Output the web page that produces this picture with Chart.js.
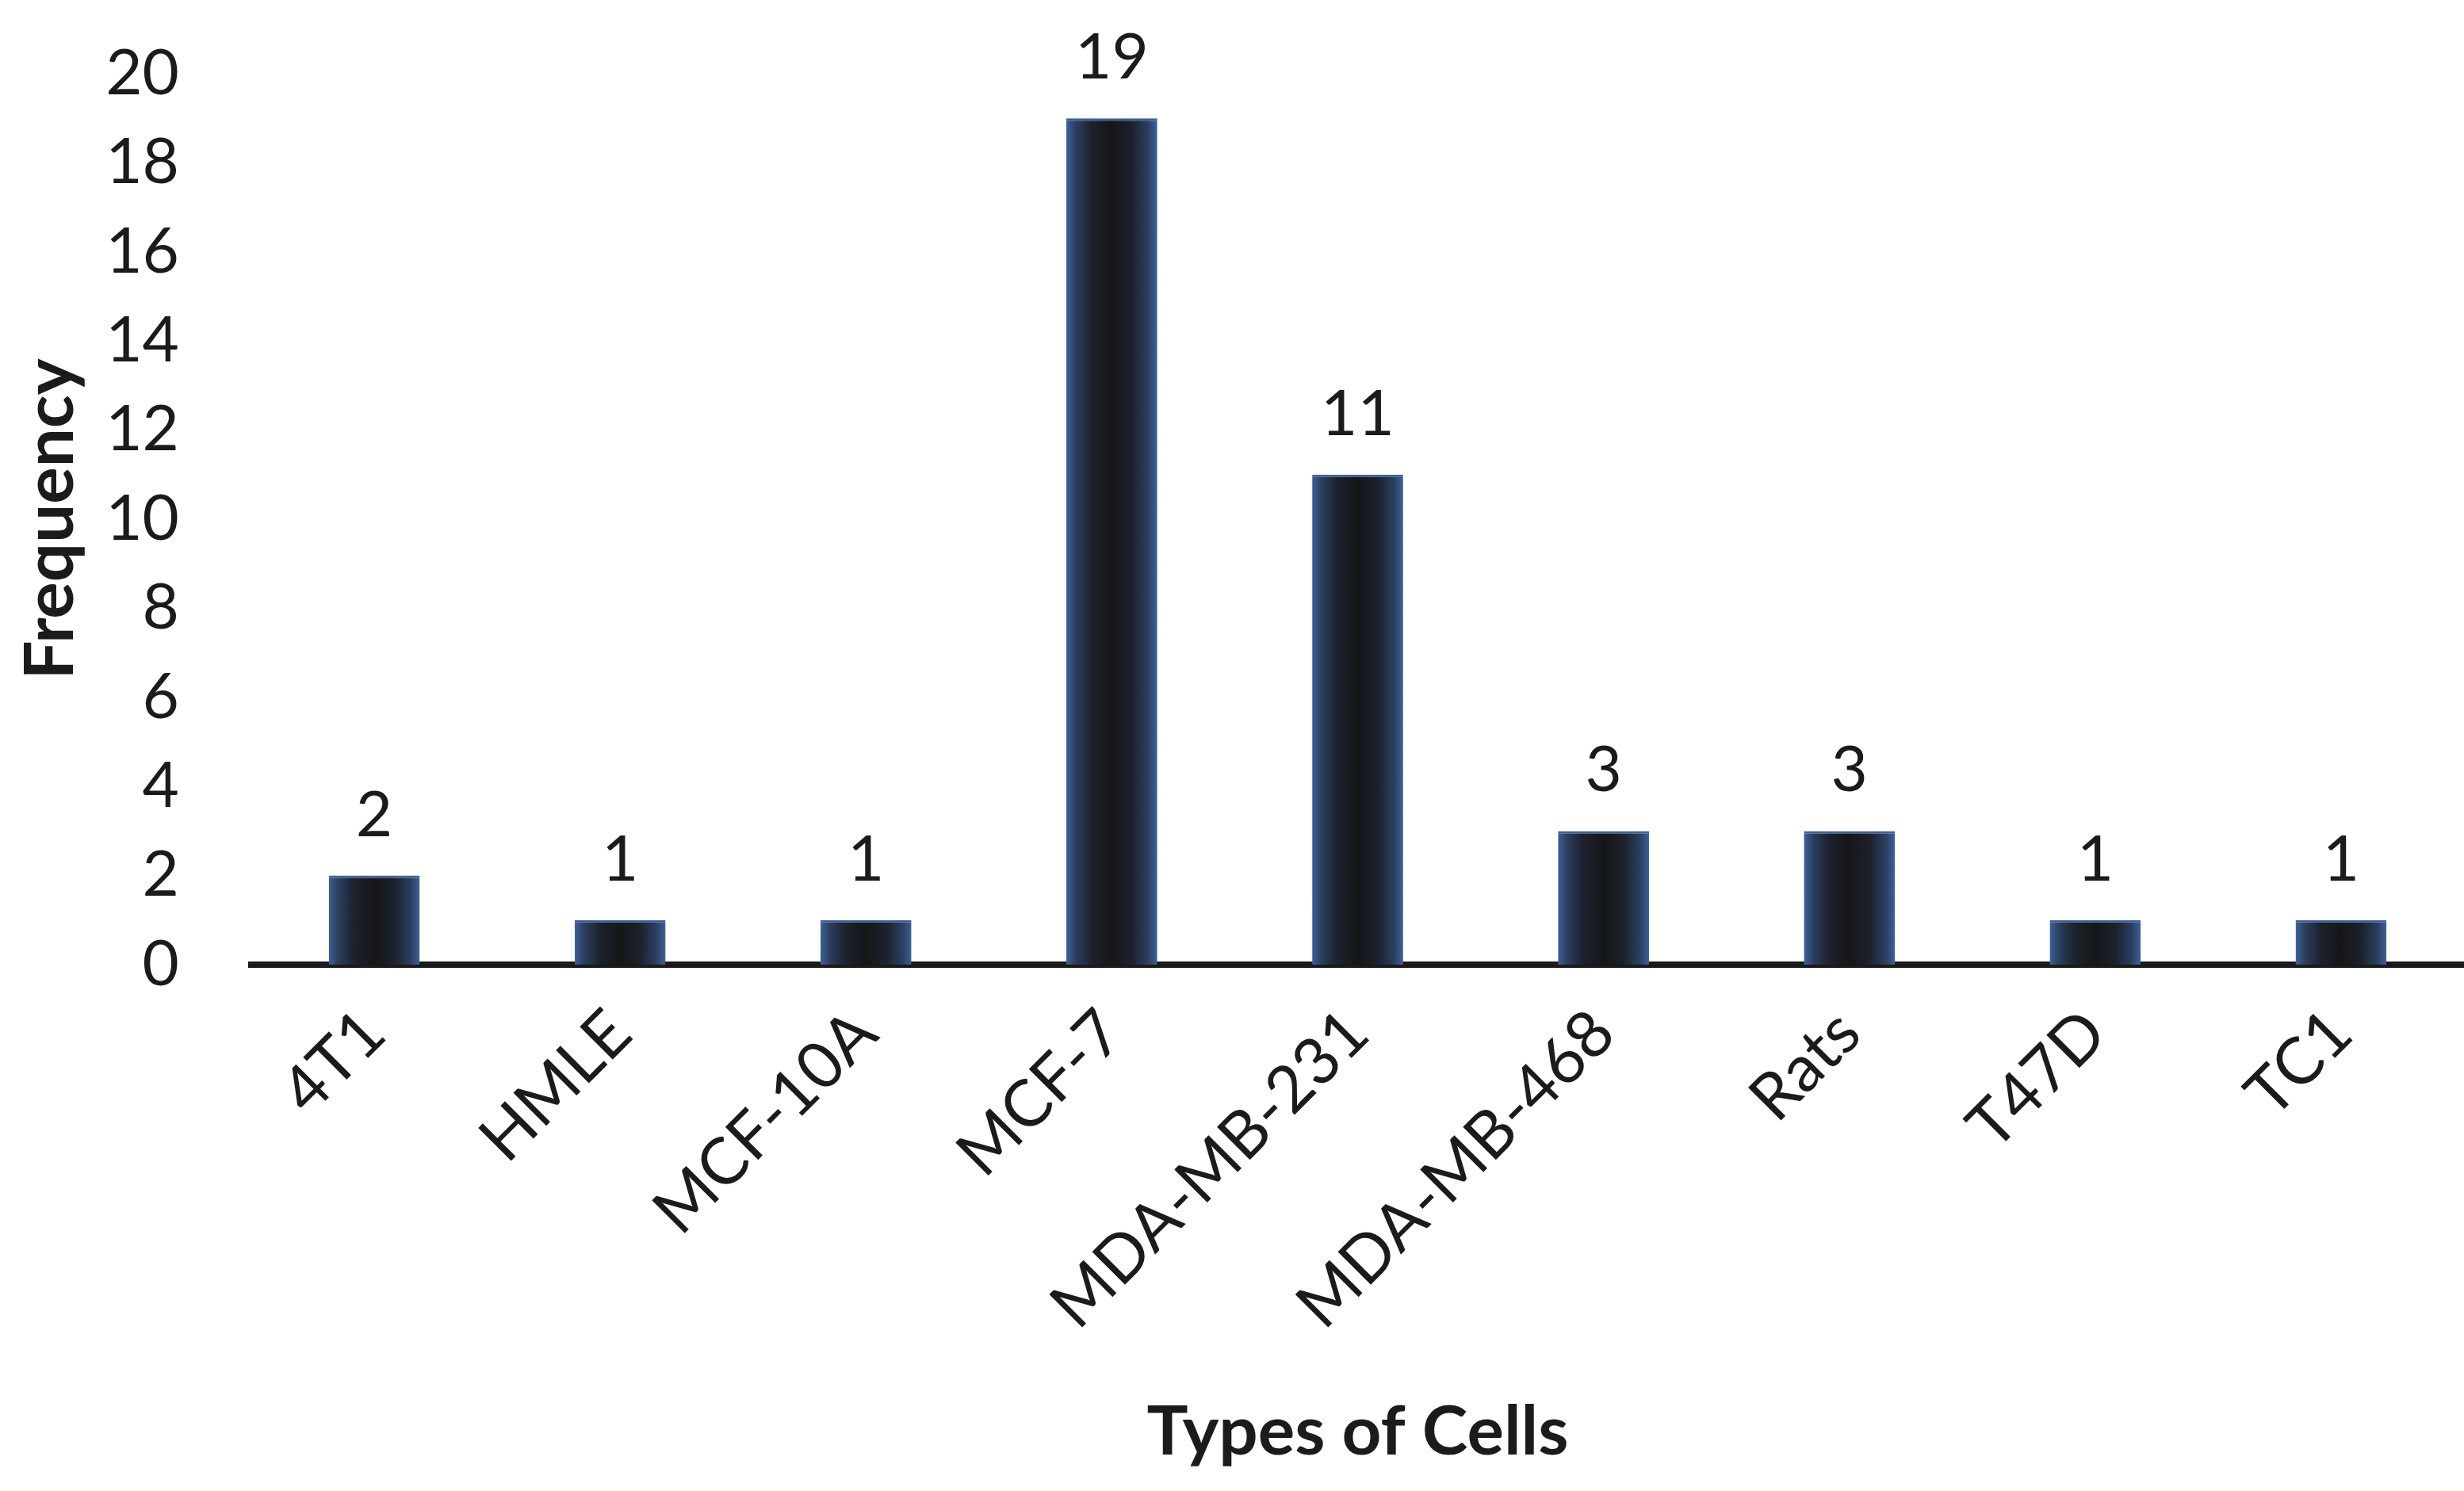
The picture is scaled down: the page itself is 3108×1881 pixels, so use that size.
<!DOCTYPE html>
<html>
<head>
<meta charset="utf-8">
<script src="https://cdn.jsdelivr.net/npm/chart.js@4/dist/chart.umd.min.js"></script>
<style>
html,body{margin:0;padding:0;background:#fff;}
#wrap{width:3108px;height:1881px;}
</style>
</head>
<body>
<div id="wrap"><canvas id="c" width="3108" height="1881"></canvas></div>
<script>
const categories = ["4T1","HMLE","MCF-10A","MCF-7","MDA-MB-231","MDA-MB-468","Rats","T47D","TC1"];
const frequency = [2,1,1,19,11,3,3,1,1];
const yTicks = [0,2,4,6,8,10,12,14,16,18,20];

const FONT = "Lato, 'Open Sans', sans-serif";
const TEXT = '#1b1b1b';
const CAT_PCT = 1.0, BAR_PCT = 0.37;

function barFill(c){
  const chart = c.chart;
  const xs = chart.scales && chart.scales.x;
  if (!xs || c.type !== 'data') return '#1a1a1a';
  const cx = xs.getPixelForValue(c.dataIndex);
  const w = (xs.width / categories.length) * CAT_PCT * BAR_PCT;
  if (!isFinite(cx) || !isFinite(w) || w <= 0) return '#1a1a1a';
  const g = chart.ctx.createLinearGradient(cx - w/2, 0, cx + w/2, 0);
  g.addColorStop(0, '#3d6199');
  g.addColorStop(0.1, '#2b3f60');
  g.addColorStop(0.28, '#1c212b');
  g.addColorStop(0.5, '#151617');
  g.addColorStop(0.72, '#1c212b');
  g.addColorStop(0.9, '#2b3f60');
  g.addColorStop(1, '#3d6199');
  return g;
}

const valueLabels = {
  id: 'valueLabels',
  afterDatasetsDraw(chart){
    const ctx = chart.ctx;
    const meta = chart.getDatasetMeta(0);
    ctx.save();
    ctx.font = "80px " + FONT;
    ctx.fillStyle = TEXT;
    ctx.textAlign = 'center';
    ctx.textBaseline = 'alphabetic';
    meta.data.forEach((el, i) => {
      ctx.fillText(String(frequency[i]), el.x, el.y - 50);
    });
    ctx.restore();
  }
};

const chart = new Chart(document.getElementById('c'), {
  type: 'bar',
  data: {
    labels: categories,
    datasets: [{
      data: frequency,
      backgroundColor: barFill,
      borderColor: '#3d6199',
      borderWidth: {top: 3, left: 0, right: 0, bottom: 0},
      borderSkipped: 'bottom',
      categoryPercentage: CAT_PCT,
      barPercentage: BAR_PCT
    }]
  },
  options: {
    responsive: false,
    devicePixelRatio: 1,
    animation: false,
    layout: { padding: { top: 93, right: 0, left: 0, bottom: 0 } },
    plugins: { legend: { display: false }, tooltip: { enabled: false } },
    scales: {
      x: {
        grid: { display: false },
        border: { display: true, color: '#1a1a1a', width: 8 },
        ticks: {
          color: TEXT, font: { family: FONT, size: 82 },
          minRotation: 45, maxRotation: 45, padding: 30, autoSkip: false
        },
        title: {
          display: true, text: 'Types of Cells', color: TEXT,
          font: { family: FONT, size: 87, weight: 'bold' },
          padding: { top: 0, bottom: 22 }
        },
        afterFit(s){ s.height = 664; s.paddingLeft = 0; s.paddingRight = 0; }
      },
      y: {
        min: 0, max: 20,
        grid: { display: false },
        border: { display: false },
        afterBuildTicks(s){ s.ticks = yTicks.map(v => ({value: v})); },
        ticks: {
          color: TEXT, font: { family: FONT, size: 80 }, padding: 83
        },
        title: {
          display: true, text: 'Frequency', color: TEXT,
          font: { family: FONT, size: 87, weight: 'bold' },
          padding: { top: 12, bottom: 0 }
        },
        afterFit(s){ s.width = 317; s.paddingTop = 0; s.paddingBottom = 0; }
      }
    }
  },
  plugins: [valueLabels]
});
chart.update();
</script>
</body>
</html>
